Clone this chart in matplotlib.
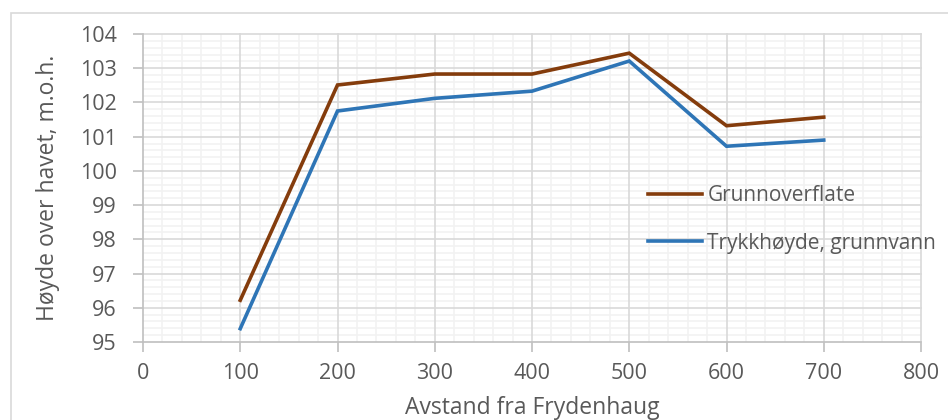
import matplotlib.pyplot as plt
from matplotlib.ticker import MultipleLocator
from matplotlib.patches import Rectangle

# Profil langs linja fra Frydenhaug
avstand = [100, 200, 300, 400, 500, 600, 700]
grunnoverflate = [96.22, 102.51, 102.83, 102.83, 103.44, 101.32, 101.57]
trykkhoyde = [95.39, 101.75, 102.12, 102.33, 103.21, 100.72, 100.90]

plt.rcParams['font.family'] = ['Open Sans', 'DejaVu Sans']
grey_text = '#595959'

fig = plt.figure(figsize=(9.48, 4.2), dpi=100)
ax = fig.add_axes([143/948, 78/420, (921-143)/948, (342-34)/420])

ax.plot(avstand, grunnoverflate, color='#843C0C', lw=2.6, label='Grunnoverflate',
        solid_joinstyle='miter', zorder=3)
ax.plot(avstand, trykkhoyde, color='#2E75B6', lw=2.6, label='Trykkhøyde, grunnvann',
        solid_joinstyle='miter', zorder=3)

ax.set_xlim(0, 800)
ax.set_ylim(95, 104)
ax.xaxis.set_major_locator(MultipleLocator(100))
ax.xaxis.set_minor_locator(MultipleLocator(20))
ax.yaxis.set_major_locator(MultipleLocator(1))
ax.yaxis.set_minor_locator(MultipleLocator(0.2))

# fine rutenett under, hovedlinjer over
ax.set_axisbelow(True)
ax.grid(which='minor', color='#f2f2f2', lw=1.2)
for x in ax.get_xticks():
    if 0 < x <= 800:
        ax.axvline(x, color='#d9d9d9', lw=1.2, zorder=1, clip_on=False)
for y in ax.get_yticks():
    if 95 < y <= 104:
        ax.axhline(y, color='#d9d9d9', lw=1.2, zorder=1, clip_on=False)

for s in ['top', 'right']:
    ax.spines[s].set_visible(False)
for s in ['left', 'bottom']:
    ax.spines[s].set_color('#bfbfbf')
    ax.spines[s].set_linewidth(1.2)
    ax.spines[s].set_zorder(2)

ax.tick_params(which='major', length=7, width=1.2, color='#bfbfbf',
               labelsize=15.5, labelcolor=grey_text)
ax.tick_params(which='minor', length=0)
ax.tick_params(axis='y', pad=12)
ax.tick_params(axis='x', pad=8)

# aksetitler
fig.text(48/948, 1-188/420, 'Høyde over havet, m.o.h.', rotation=90,
         ha='center', va='center', fontsize=16.5, color=grey_text)
fig.text(532/948, 1-408/420, 'Avstand fra Frydenhaug',
         ha='center', va='center', fontsize=16.5, color=grey_text)

ax.legend(loc='center left', bbox_to_anchor=(648/948, 1-219.5/420),
          bbox_transform=fig.transFigure, frameon=False,
          fontsize=15, labelcolor=grey_text, handlelength=2.6, handletextpad=0.25,
          labelspacing=1.26, borderaxespad=0, borderpad=0)

# ramme rundt diagramområdet
fig.patches.append(Rectangle((11/948, -0.1), 1.0, 1.1 - 13/420, transform=fig.transFigure,
                             fill=False, edgecolor='#d9d9d9', lw=1.2, figure=fig))

fig.savefig('out.png', dpi=100, facecolor='white')
